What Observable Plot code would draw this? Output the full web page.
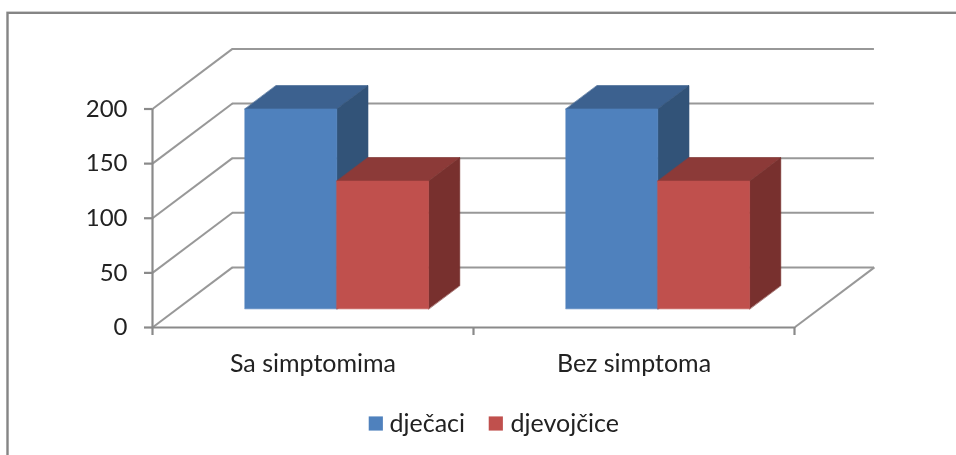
<!DOCTYPE html>
<html>
<head>
<meta charset="utf-8">
<script src="https://cdn.jsdelivr.net/npm/d3@7"></script>
<script src="https://cdn.jsdelivr.net/npm/@observablehq/plot@0.6"></script>
<style>
html,body{margin:0;padding:0;background:#fff;width:956px;height:455px;overflow:hidden}
svg{display:block;filter:blur(0.5px)}
</style>
</head>
<body>
<div id="chart"></div>
<script>
const categories = ["Sa simptomima", "Bez simptoma"];
const seriesNames = ["dječaci", "djevojčice"];
const djecaci = [183, 183];
const djevojcice = [117, 117];
const yTicks = [0, 50, 100, 150, 200];
const frontColors = ["#4F81BD", "#C0504D"];
const topColors = ["#3C618F", "#8C3A38"];
const sideColors = ["#325378", "#78302E"];

// Oblique projection: depth z (0 = front, 1 = back wall) shifts a point in data units.
const shiftX = 0.249, shiftY = 55;
const px = (c, z) => c + z * shiftX;
const py = (v, z) => v + z * shiftY;
const barStart = 0.211, barWidth = 0.286, zNear = 0.31, zFar = 0.70;

const series = [djecaci, djevojcice];
const faces = [];
categories.forEach((cat, ci) => {
  series.forEach((vals, si) => {
    const x0 = ci + barStart + si * barWidth, x1 = x0 + barWidth, v = vals[ci];
    const add = (kind, color, pts) => pts.forEach(([c, val, z]) =>
      faces.push({id: `${ci}-${si}-${kind}`, color, x: px(c, z), y: py(val, z)}));
    add("top", topColors[si], [[x0, v, zNear], [x1, v, zNear], [x1, v, zFar], [x0, v, zFar]]);
    add("side", sideColors[si], [[x1, 0, zNear], [x1, v, zNear], [x1, v, zFar], [x1, 0, zFar]]);
    add("front", frontColors[si], [[x0, 0, zNear], [x1, 0, zNear], [x1, v, zNear], [x0, v, zNear]]);
  });
});

const wall = yTicks.map(v => ({x1: px(0, 1), x2: px(2, 1), y: py(v, 1)}));
const diag = yTicks.map(v => ({x1: px(0, 0), y1: v, x2: px(0, 1), y2: py(v, 1)}));
const gridColor = "#989898";
const axisColor = "#8A8A8A";
const font = "Lato, 'Open Sans', sans-serif";

const chart = Plot.plot({
  width: 956, height: 455,
  marginLeft: 0, marginRight: 0, marginTop: 0, marginBottom: 0,
  style: {background: "#fff", fontFamily: font},
  x: {type: "linear", domain: [0, 2], range: [152, 794], axis: null},
  y: {type: "linear", domain: [0, 200], range: [327, 108.5], axis: null},
  marks: [
    Plot.frame({stroke: "#858585", strokeWidth: 2.4, insetLeft: 7, insetTop: 12.3, insetRight: -10, insetBottom: -10}),
    Plot.ruleY(wall, {x1: "x1", x2: "x2", y: "y", stroke: gridColor, strokeWidth: 2}),
    Plot.link(diag, {x1: "x1", y1: "y1", x2: "x2", y2: "y2", stroke: gridColor, strokeWidth: 2}),
    Plot.link([0], {x1: () => px(2, 0), y1: () => 0, x2: () => px(2, 1), y2: () => py(0, 1), stroke: gridColor, strokeWidth: 2}),
    Plot.ruleY([0], {x1: 0, x2: 2, stroke: axisColor, strokeWidth: 2.2}),
    Plot.ruleX([0], {y1: 0, y2: 200, stroke: axisColor, strokeWidth: 2.2}),
    Plot.axisX({ticks: [0, 1, 2], tickFormat: () => "", tickSize: 8, stroke: axisColor, strokeWidth: 2.2, anchor: "bottom", y: 0}),
    Plot.axisY({ticks: yTicks, tickSize: 8, tickPadding: 17, stroke: axisColor, strokeWidth: 2.2, fill: "#222", fontSize: 24, anchor: "left", x: 0, label: null, tickFormat: d3.format("d")}),
    Plot.line(faces, {x: "x", y: "y", z: "id", fill: "color", stroke: "color", strokeWidth: 0.6, curve: "linear-closed"}),
    Plot.text(categories, {x: (d, i) => i + 0.5, y: () => 0, dy: 36, text: d => d, fontSize: 25, fill: "#222"}),
    Plot.dot(seriesNames, {frameAnchor: "top-left", dx: 375.3, dy: 423, symbol: "square", r: 8, fill: frontColors[0], filter: (d, i) => i === 0}),
    Plot.dot(seriesNames, {frameAnchor: "top-left", dx: 495.3, dy: 423, symbol: "square", r: 8, fill: frontColors[1], filter: (d, i) => i === 1}),
    Plot.text(seriesNames, {frameAnchor: "top-left", dx: 389, dy: 423, text: d => d, textAnchor: "start", lineAnchor: "middle", fontSize: 25, fill: "#222", filter: (d, i) => i === 0}),
    Plot.text(seriesNames, {frameAnchor: "top-left", dx: 510, dy: 423, text: d => d, textAnchor: "start", lineAnchor: "middle", fontSize: 25, fill: "#222", filter: (d, i) => i === 1})
  ]
});
document.getElementById("chart").appendChild(chart);
</script>
</body>
</html>
